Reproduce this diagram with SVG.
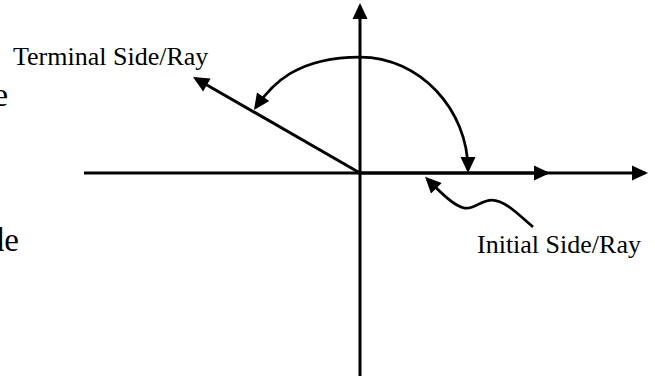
<svg xmlns="http://www.w3.org/2000/svg" width="655" height="376" viewBox="0 0 655 376">
  <defs>
    <marker id="ah" markerUnits="userSpaceOnUse" markerWidth="16" markerHeight="15" viewBox="0 0 16 15" refX="13" refY="7.5" orient="auto-start-reverse" overflow="visible">
      <path d="M0,0 L16,7.5 L0,15 z" fill="#000"/>
    </marker>
    <style>
      .ln { fill: none; stroke: #000; stroke-width: 3; }
      .arc { fill: none; stroke: #000; stroke-width: 2.75; }
      .lbl { font-family: "Liberation Serif", "Times New Roman", serif; font-size: 26px; fill: #000; }
      .frag { font-family: "Liberation Serif", "Times New Roman", serif; font-size: 34px; fill: #000; }
    </style>
  </defs>
  <rect width="655" height="376" fill="#fff"/>

  <g id="fragments">
    <text class="frag" x="8" y="106" text-anchor="end">e</text>
    <text class="frag" x="19" y="251" text-anchor="end" style="font-size:33px">de</text>
  </g>

  <g id="terminal-label">
    <text class="lbl" x="13" y="65">Terminal Side/Ray</text>
  </g>
  <g id="initial-label">
    <text class="lbl" x="477" y="253">Initial Side/Ray</text>
  </g>

  <g id="connectors">
    <!-- x-axis -->
    <path class="ln" d="M84,173 L645,173" marker-end="url(#ah)"/>
    <!-- y-axis -->
    <path class="ln" d="M360,376 L360,6" marker-end="url(#ah)"/>
    <!-- initial ray -->
    <path class="ln" d="M360,173 L547,173" marker-end="url(#ah)"/>
    <!-- terminal ray -->
    <path class="ln" d="M360,173 L195.6,78.5" marker-end="url(#ah)"/>
    <!-- angle arc -->
    <path class="arc" d="M255.7,107.5 C272,84 297,57 360,57 C420,57 468,110 468,170" marker-start="url(#ah)" marker-end="url(#ah)"/>
    <!-- initial label pointer -->
    <path class="arc" d="M533,227 C520,216 505,200 492,200 C480,200 475,210 464,208 C455,206 444,196 427.2,179" marker-end="url(#ah)"/>
  </g>
</svg>
